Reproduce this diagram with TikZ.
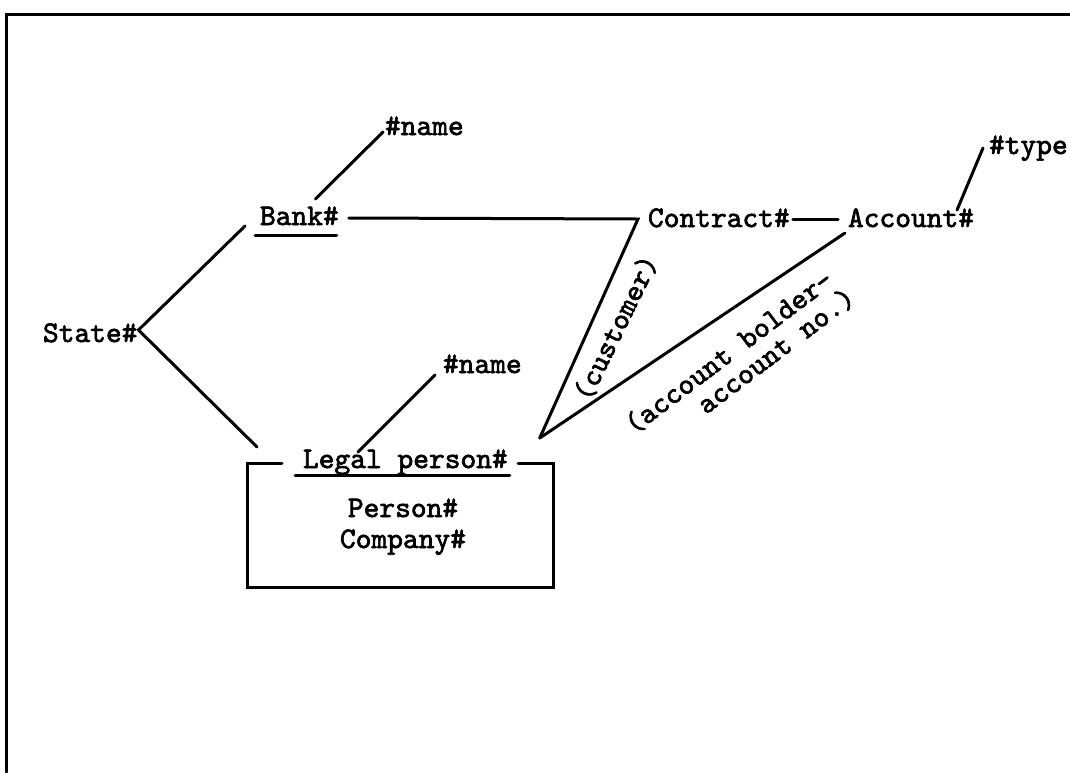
\documentclass[tikz,border=0pt]{standalone}
\usepackage{fontspec}
\usetikzlibrary{calc}
% emboldened typewriter face for all labels
\newfontfamily\diagfont{lmmono10-regular.otf}[FakeBold=2.2]
\begin{document}
\begin{tikzpicture}[x=1pt,y=-1pt,
    line width=3pt, line cap=round, line join=miter,
    lbl/.style={inner sep=0pt, outer sep=0pt, text height=18pt, text depth=0pt,
      anchor=base west, font=\fontsize{30}{36}\selectfont\diagfont},
    rlbl/.style={lbl, anchor=center}]
  \useasboundingbox (0,0) rectangle (1070,772);

  % page frame (top and left edges)
  \draw (1070,14) -- (6,14) -- (6,772);

  % entity and attribute labels
  \node[lbl] (name1)    at (385,135) {\#name};
  \node[lbl] (bank)     at (260,225) {Bank\#};
  \node[lbl] (contract) at (648,227) {Contract\#};
  \node[lbl] (account)  at (848,227) {Account\#};
  \node[lbl] (type)     at (989,154) {\#type};
  \node[lbl] (state)    at (43,342)  {State\#};
  \node[lbl] (name2)    at (443,373) {\#name};
  \node[lbl] (legal)    at (303,468) {Legal person\#};
  \node[lbl, anchor=base] (person)  at (403,517) {Person\#};
  \node[lbl, anchor=base] (company) at (403,548) {Company\#};

  % key underlines
  \draw ($(bank.base west)+(-5,10)$) -- ($(bank.base east)+(-2,10)$);
  \draw ($(legal.base west)+(-8,7)$) -- ($(legal.base east)+(2,7)$);

  % corner points of the relationship lines
  \coordinate (cv) at ($(contract.west)+(-10,1)$);
  \coordinate (lv) at ($(legal.north east)+(32,-12)$);
  \coordinate (sv) at ($(state.east)+(1,-3)$);

  % connectors
  \draw ($(name1.south west)+(-2,-3)$) -- ($(bank.north)+(16,-8)$);
  \draw (sv) -- ($(bank.west)+(-15,10)$);
  \draw (sv) -- ($(legal.north west)+(-46,-3)$);
  \draw ($(bank.east)+(10,2)$) -- (cv) -- (lv);
  \draw ($(contract.east)+(3,1)$) -- ($(account.west)+(-10,1)$);
  \draw ($(account.north east)+(-17,1)$) -- ($(type.west)+(-6,3)$);
  \draw ($(account.south west)+(-3,6)$) -- (lv);
  \draw ($(name2.south west)+(-8,2)$) -- ($(legal.north)+(-47.5,2)$);

  % generalisation box around the subtypes
  \draw ($(legal.base west)+(-21,-5)$) -- ($(legal.base west)+(-56,-5)$)
     -- ($(legal.base west)+(-56,119)$) -- ($(legal.base west)+(250,119)$)
     -- ($(legal.base west)+(250,-5)$) -- ($(legal.base west)+(215,-5)$);

  % role labels along the relationship lines
  \node[rlbl, rotate=64] (customer) at (616,328) {(customer)};
  \node[rlbl, rotate=37] (holder1)  at (729,352) {(account bolder-};
  \node[rlbl, rotate=37] (holder2)  at (776,351) {account no.)};
\end{tikzpicture}
\end{document}
